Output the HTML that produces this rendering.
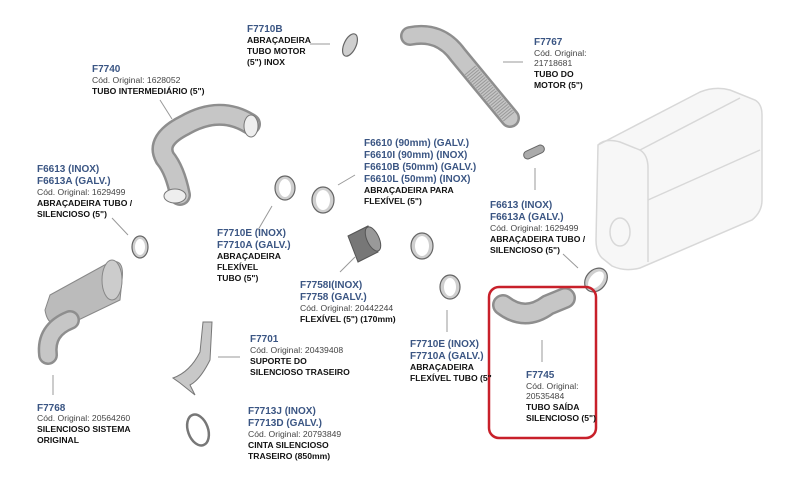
<!DOCTYPE html>
<html><head><meta charset="utf-8"><style>
html,body{margin:0;padding:0;background:#fff;}
svg{display:block}
text{font-family:"Liberation Sans",sans-serif;font-size:8.6px;fill:#222}
.c{fill:#3a5583;font-weight:bold;font-size:10px}
.b{font-weight:bold;fill:#111;font-size:8.6px}
.o{fill:#444}
.l{stroke:#999;stroke-width:1;fill:none}
.pipe{fill:none;stroke:#8e8e8e;stroke-linecap:round}
.pin{fill:none;stroke:#c6c6c6;stroke-linecap:round}
.clamp{fill:#cfcfcf;stroke:#666;stroke-width:1.2}
</style></head><body>
<svg width="800" height="480" viewBox="0 0 800 480">
<g fill="#f7f7f7" stroke="#d8d8d8" stroke-width="1.5">
<path d="M598 145 L700 92 Q715 86 730 90 L755 100 Q762 104 762 115 L762 200 Q762 212 752 220 L640 268 Q625 272 612 266 L602 258 Q596 252 596 240 Z"/>
<path d="M598 145 Q605 138 620 142 L640 150 Q648 155 648 168 L648 262" fill="none"/>
<path d="M640 150 L740 98" fill="none"/>
<path d="M648 200 L760 150" fill="none"/>
<ellipse cx="620" cy="232" rx="10" ry="14"/>
</g>
<path class="pipe" d="M410 36 Q440 30 458 55 L510 118" stroke-width="20"/>
<path class="pin" d="M410 36 Q440 30 458 55 L510 118" stroke-width="15"/>
<path d="M470 70 L510 118" stroke="#999" stroke-width="14" stroke-dasharray="1 1.5" fill="none"/>
<rect x="523" y="148" width="22" height="8" rx="4" transform="rotate(-25 534 152)" fill="#aaa" stroke="#666"/>
<ellipse cx="350" cy="45" rx="6" ry="12" transform="rotate(25 350 45)" class="clamp" fill="none"/>
<path class="pipe" d="M250 124 Q220 105 185 125 Q155 140 165 158 Q175 170 180 195" stroke-width="22"/>
<path class="pin" d="M250 124 Q220 105 185 125 Q155 140 165 158 Q175 170 180 195" stroke-width="17"/>
<ellipse cx="251" cy="126" rx="7" ry="11" fill="#eee" stroke="#777"/>
<ellipse cx="175" cy="196" rx="11" ry="7" fill="#eee" stroke="#777"/>
<g>
<ellipse cx="140" cy="247" rx="8" ry="11" class="clamp"/><ellipse cx="140" cy="247" rx="5" ry="8" fill="#fff"/>
<ellipse cx="285" cy="188" rx="10" ry="12" class="clamp"/><ellipse cx="285" cy="188" rx="6" ry="9" fill="#fff"/>
<ellipse cx="323" cy="200" rx="11" ry="13" class="clamp"/><ellipse cx="323" cy="200" rx="7" ry="10" fill="#fff"/>
<ellipse cx="422" cy="246" rx="11" ry="13" class="clamp"/><ellipse cx="422" cy="246" rx="7" ry="10" fill="#fff"/>
<ellipse cx="450" cy="287" rx="10" ry="12" class="clamp"/><ellipse cx="450" cy="287" rx="6" ry="9" fill="#fff"/>
<ellipse cx="596" cy="280" rx="10" ry="13" transform="rotate(40 596 280)" class="clamp"/><ellipse cx="596" cy="280" rx="6" ry="10" transform="rotate(40 596 280)" fill="#fff"/>
</g>
<path d="M348 236 L368 226 L378 252 L358 262 Z" fill="#777" stroke="#555"/>
<ellipse cx="373" cy="239" rx="6" ry="13" transform="rotate(-25 373 239)" fill="#999" stroke="#555"/>
<path d="M50 295 L110 262 Q125 258 122 280 L120 300 L68 325 Q48 330 45 310 Z" fill="#bbb" stroke="#888"/>
<ellipse cx="112" cy="280" rx="10" ry="20" fill="#ccc" stroke="#888"/>
<path class="pipe" d="M70 320 Q45 330 48 355" stroke-width="20"/>
<path class="pin" d="M70 320 Q45 330 48 355" stroke-width="15"/>
<path d="M203 322 L212 322 L210 360 Q200 380 190 385 L195 395 L180 383 L173 378 Q190 372 200 352 Z" fill="#c8c8c8" stroke="#777"/>
<ellipse cx="198" cy="430" rx="10" ry="16" transform="rotate(-20 198 430)" fill="none" stroke="#777" stroke-width="2.5"/>
<path class="pipe" d="M503 305 Q525 322 548 305 L565 298" stroke-width="22"/>
<path class="pin" d="M503 305 Q525 322 548 305 L565 298" stroke-width="17"/>
<rect x="489" y="287" width="107" height="151" rx="10" fill="none" stroke="#c8202a" stroke-width="2.5"/>
<path class="l" d="M310 44 H330 M160 100 L172 119 M112 218 L128 235 M338 185 L355 175 M258 230 L272 206 M340 272 L355 257 M503 62 H523 M535 168 V190 M563 254 L578 268 M218 357 H240 M53 375 V395 M447 310 V332 M542 340 V362"/>
<text x="247" y="32" class="c">F7710B</text>
<text x="247" y="43" class="b">ABRAÇADEIRA</text><text x="247" y="54" class="b">TUBO MOTOR</text><text x="247" y="65" class="b">(5") INOX</text>
<text x="92" y="72" class="c">F7740</text>
<text x="92" y="83" class="o">Cód. Original: 1628052</text>
<text x="92" y="94" class="b">TUBO INTERMEDIÁRIO  (5")</text>
<text x="37" y="172" class="c">F6613 (INOX)</text>
<text x="37" y="184" class="c">F6613A (GALV.)</text>
<text x="37" y="195" class="o">Cód. Original: 1629499</text>
<text x="37" y="206" class="b">ABRAÇADEIRA TUBO /</text>
<text x="37" y="217" class="b">SILENCIOSO (5")</text>
<text x="364" y="146" class="c">F6610 (90mm) (GALV.)</text>
<text x="364" y="158" class="c">F6610I (90mm) (INOX)</text>
<text x="364" y="170" class="c">F6610B (50mm) (GALV.)</text>
<text x="364" y="182" class="c">F6610L (50mm) (INOX)</text>
<text x="364" y="193" class="b">ABRAÇADEIRA PARA</text>
<text x="364" y="204" class="b">FLEXÍVEL (5")</text>
<text x="217" y="236" class="c">F7710E (INOX)</text>
<text x="217" y="248" class="c">F7710A (GALV.)</text>
<text x="217" y="259" class="b">ABRAÇADEIRA</text>
<text x="217" y="270" class="b">FLEXÍVEL</text>
<text x="217" y="281" class="b">TUBO (5")</text>
<text x="300" y="288" class="c">F7758I(INOX)</text>
<text x="300" y="300" class="c">F7758 (GALV.)</text>
<text x="300" y="311" class="o">Cód. Original: 20442244</text>
<text x="300" y="322" class="b">FLEXÍVEL (5") (170mm)</text>
<text x="534" y="45" class="c">F7767</text>
<text x="534" y="56" class="o">Cód. Original:</text>
<text x="534" y="66" class="o">21718681</text>
<text x="534" y="77" class="b">TUBO DO</text>
<text x="534" y="88" class="b">MOTOR (5")</text>
<text x="490" y="208" class="c">F6613 (INOX)</text>
<text x="490" y="220" class="c">F6613A (GALV.)</text>
<text x="490" y="231" class="o">Cód. Original: 1629499</text>
<text x="490" y="242" class="b">ABRAÇADEIRA TUBO /</text>
<text x="490" y="253" class="b">SILENCIOSO (5")</text>
<text x="250" y="342" class="c">F7701</text>
<text x="250" y="353" class="o">Cód. Original: 20439408</text>
<text x="250" y="364" class="b">SUPORTE DO</text>
<text x="250" y="375" class="b">SILENCIOSO  TRASEIRO</text>
<text x="37" y="411" class="c">F7768</text>
<text x="37" y="421" class="o">Cód. Original: 20564260</text>
<text x="37" y="432" class="b">SILENCIOSO SISTEMA</text>
<text x="37" y="443" class="b">ORIGINAL</text>
<text x="248" y="414" class="c">F7713J (INOX)</text>
<text x="248" y="426" class="c">F7713D (GALV.)</text>
<text x="248" y="437" class="o">Cód. Original: 20793849</text>
<text x="248" y="448" class="b">CINTA SILENCIOSO</text>
<text x="248" y="459" class="b">TRASEIRO (850mm)</text>
<text x="410" y="347" class="c">F7710E (INOX)</text>
<text x="410" y="359" class="c">F7710A (GALV.)</text>
<text x="410" y="370" class="b">ABRAÇADEIRA</text>
<text x="410" y="381" class="b">FLEXÍVEL TUBO  (5"</text>
<text x="526" y="378" class="c">F7745</text>
<text x="526" y="389" class="o">Cód. Original:</text>
<text x="526" y="399" class="o">20535484</text>
<text x="526" y="410" class="b">TUBO SAÍDA</text>
<text x="526" y="421" class="b">SILENCIOSO (5")</text>
</svg>
</body></html>
